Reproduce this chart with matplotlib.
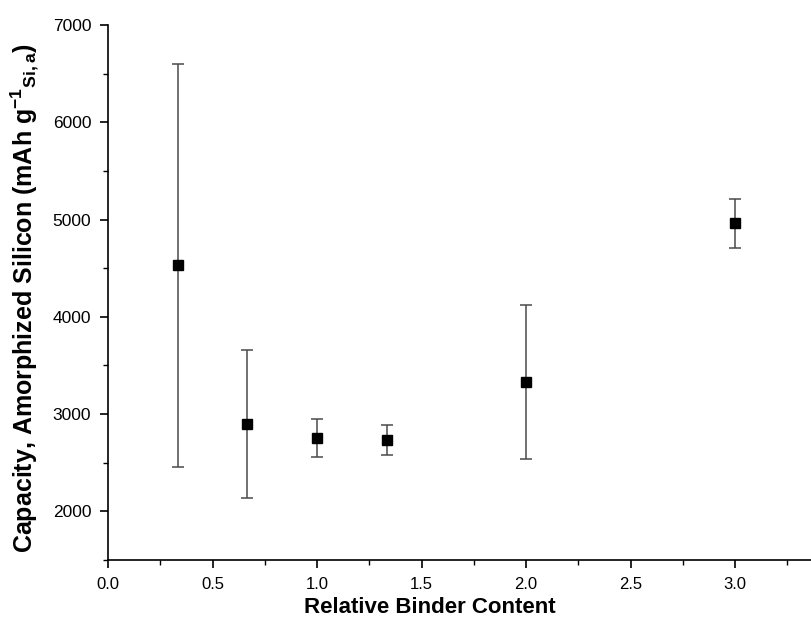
import matplotlib
matplotlib.use("Agg")
import matplotlib.pyplot as plt
from matplotlib.ticker import MultipleLocator

plt.rcParams['font.family'] = ['Liberation Sans', 'DejaVu Sans']
plt.rcParams['mathtext.fontset'] = 'custom'
plt.rcParams['mathtext.rm'] = 'Liberation Sans:bold'
plt.rcParams['mathtext.bf'] = 'Liberation Sans:bold'
plt.rcParams['mathtext.it'] = 'Liberation Sans:bold'
plt.rcParams['mathtext.default'] = 'bf'

# Relative binder content vs. capacity of amorphized silicon
binder = [1/3, 2/3, 1.0, 4/3, 2.0, 3.0]
capacity = [4530, 2898, 2755, 2735, 3330, 4962]
capacity_err = [2070, 765, 195, 152, 795, 253]

fig = plt.figure(figsize=(8.12, 6.33), dpi=100)
ax = fig.add_axes([0.133, 0.1153, 0.867, 0.8452])

ax.errorbar(binder, capacity, yerr=capacity_err, fmt='s', color='black',
            ecolor='#4a4a4a', elinewidth=1.1, capsize=4.3, capthick=1.1,
            markersize=7.2)

ax.set_xlim(0, 3.368)
ax.set_ylim(1500, 7000)
ax.xaxis.set_major_locator(MultipleLocator(0.5))
ax.xaxis.set_minor_locator(MultipleLocator(0.25))
ax.yaxis.set_minor_locator(MultipleLocator(500))
ax.set_yticks([2000, 3000, 4000, 5000, 6000, 7000])
ax.xaxis.set_major_formatter(plt.FuncFormatter(lambda v, p: f"{v:.1f}"))

for s in ('top', 'right'):
    ax.spines[s].set_visible(False)
for s in ('left', 'bottom'):
    ax.spines[s].set_linewidth(1.2)

ax.tick_params(which='major', direction='out', length=6, width=1.2, pad=6)
ax.tick_params(which='minor', direction='out', length=3.5, width=1.0)
ax.tick_params(axis='y', labelsize=12.5)
ax.tick_params(axis='x', labelsize=12)

ax.set_xlabel('Relative Binder Content', fontsize=16, fontweight='bold')
ax.set_ylabel('Capacity, Amorphized Silicon (mAh g$^{-1}$$_{Si,a}$)',
              fontsize=18, fontweight='bold')
ax.xaxis.set_label_coords(0.457, -0.07)
ax.yaxis.set_label_coords(-0.095, 0.49)

fig.savefig('out.png', dpi=100)
